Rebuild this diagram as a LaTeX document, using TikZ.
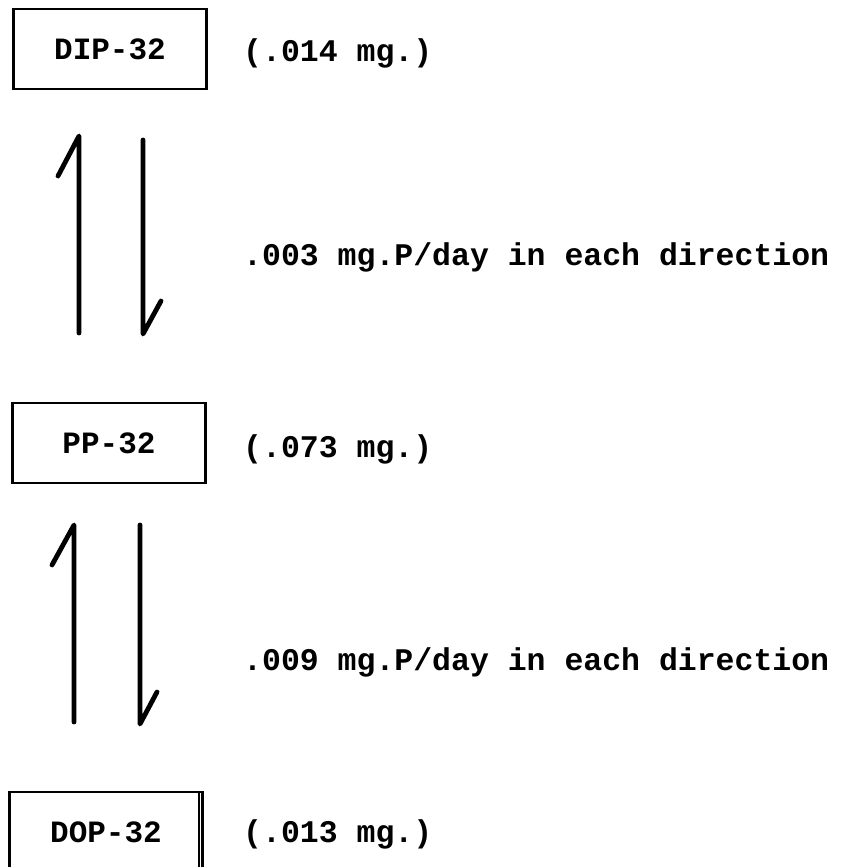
\documentclass[tikz,border=0pt]{standalone}
\usepackage{fontspec}
\newfontfamily\tw{Liberation Mono Bold}
\begin{document}
\begin{tikzpicture}[x=1pt,y=-1pt,
  poolbox/.style={draw=black, line width=2.6pt, minimum width=193pt, minimum height=80pt, inner sep=0pt, font=\tw\fontsize{31}{34}\selectfont},
  lbl/.style={anchor=base west, inner sep=0pt, font=\tw\fontsize{31.5}{34}\selectfont},
  flow/.style={draw=black, line width=4.8pt, line cap=round, line join=round}]
\useasboundingbox (0,0) rectangle (844,867);
\clip (0,0) rectangle (844,867);
% boxes
\node[poolbox] (dip) at (110,49) {DIP-32};
\node[poolbox] (pp) at (109,443) {PP-32};
\node[poolbox] (dop) at (106,832) {DOP-32};
\draw[line width=1.2pt] (199,792) -- (199,870);
% amounts
\node[lbl] (a1) at (243,62) {(.014 mg.)};
\node[lbl] (a2) at (243,457) {(.073 mg.)};
\node[lbl] (a3) at (243,842) {(.013 mg.)};
% flow labels
\node[lbl] (f1) at (243,265) {.003 mg.P/day in each direction};
\node[lbl] (f2) at (243,670) {.009 mg.P/day in each direction};
% arrow coordinates
\coordinate (u1s) at (79,333); \coordinate (u1e) at (79,136); \coordinate (u1h) at (58,176);
\coordinate (d1s) at (143,140); \coordinate (d1e) at (143,334); \coordinate (d1h) at (161,301);
\coordinate (u2s) at (74,722); \coordinate (u2e) at (74,525); \coordinate (u2h) at (52,565);
\coordinate (d2s) at (140,525); \coordinate (d2e) at (140,724); \coordinate (d2h) at (157,692);
\draw[flow] (u1s) -- (u1e) -- (u1h);
\draw[flow] (d1s) -- (d1e) -- (d1h);
\draw[flow] (u2s) -- (u2e) -- (u2h);
\draw[flow] (d2s) -- (d2e) -- (d2h);
\end{tikzpicture}
\end{document}
